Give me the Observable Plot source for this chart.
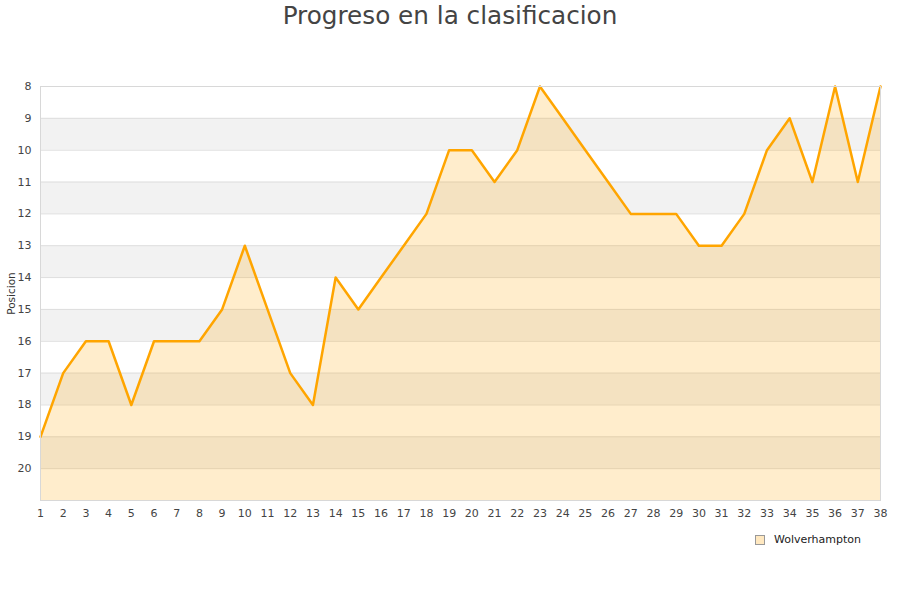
<!DOCTYPE html>
<html>
<head>
<meta charset="utf-8">
<script src="https://cdn.jsdelivr.net/npm/d3@7"></script>
<script src="https://cdn.jsdelivr.net/npm/@observablehq/plot@0.6"></script>
<style>
  body { margin: 0; background: #fff; font-family: "DejaVu Sans", sans-serif; }
  #wrap { position: relative; width: 900px; height: 600px; }
  #title { height: 40px; line-height: 32px; text-align: center; font-size: 24.7px; color: #444; font-family: "DejaVu Sans", sans-serif; }
  #legend { position: absolute; left: 755px; top: 533px; font-size: 11px; color: #222; display: flex; align-items: center; }
  #legend span.sw { width: 8px; height: 8px; border: 1px solid #999; background: #ffe8c0; margin-right: 9px; display: inline-block; }
</style>
</head>
<body>
<div id="wrap">
  <div id="title">Progreso en la clasificacion</div>
  <div id="chart"></div>
  <div id="legend"><span class="sw"></span>Wolverhampton</div>
</div>
<script>
// jornadas y posicion del equipo
const jornadas = d3.range(1, 39)
const posicion = [19, 17, 16, 16, 18, 16, 16, 16, 15, 13,
                  15, 17, 18, 14, 15, 14, 13, 12, 10, 10,
                  11, 10, 8, 9, 10, 11, 12, 12, 12, 13,
                  13, 12, 10, 9, 11, 8, 11, 8]
const yTicks = d3.range(8, 21)
const bandas = [9, 11, 13, 15, 17, 19]
const equipo = 'Wolverhampton'

const data = jornadas.map((j, i) => ({jornada: j, pos: posicion[i], equipo}))

let chart = Plot.plot({
    width: 900,
    height: 560,
    marginTop: 46,
    marginBottom: 100,
    marginLeft: 40,
    marginRight: 20,
    style: {fontFamily: 'DejaVu Sans, sans-serif', fontSize: '11px', color: '#444', background: 'white'},
    x: {domain: [1, 38], ticks: jornadas, tickSize: 0, tickPadding: 9, label: null},
    y: {domain: [8, 21], reverse: true, ticks: yTicks, tickSize: 0, tickPadding: 9, label: null},
    marks: [
        Plot.rectY(bandas, {x1: 1, x2: 38, y1: d => d, y2: d => d + 1, fill: '#f2f2f2'}),
        Plot.ruleY(yTicks.slice(1), {stroke: '#dedede'}),
        Plot.areaY(data, {x: 'jornada', y1: 21, y2: 'pos', fill: '#ffa500', fillOpacity: 0.2}),
        Plot.line(data, {x: 'jornada', y: 'pos', stroke: '#ffa500', strokeWidth: 2.5}),
        Plot.frame({stroke: '#d8d8d8'}),
        Plot.axisX({ticks: jornadas, tickSize: 0, tickPadding: 9, label: null}),
        Plot.axisY({ticks: yTicks, tickSize: 0, tickPadding: 9, label: null}),
        Plot.text(['Posicion'], {frameAnchor: 'left', textAnchor: 'middle', dx: -29, rotate: -90, fontSize: 10.5, fill: '#333'})
    ]
})

d3.select('#chart').append(() => chart)
</script>
</body>
</html>
